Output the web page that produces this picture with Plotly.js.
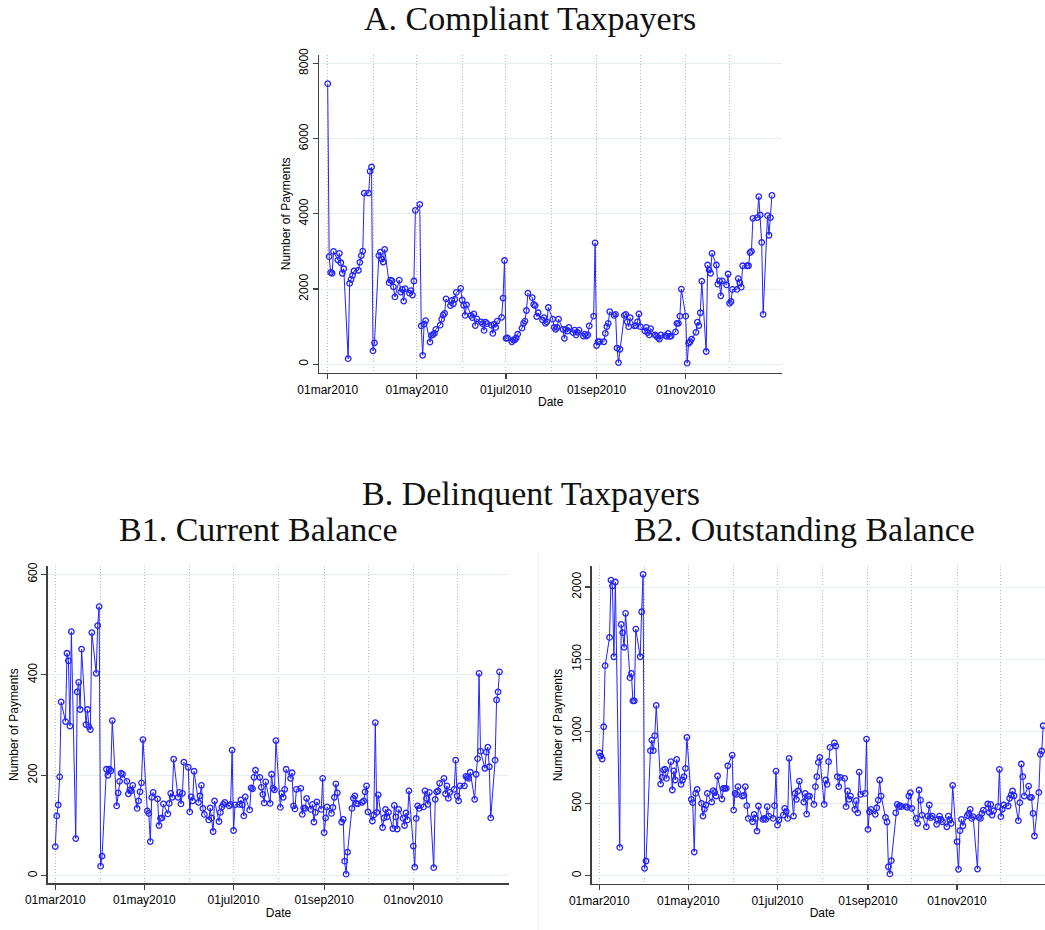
<!DOCTYPE html>
<html>
<head>
<meta charset="utf-8">
<script src="https://cdn.plot.ly/plotly-3.0.1.min.js"></script>
<style>
html,body{margin:0;padding:0;overflow:hidden;background:#fff;}
#chart{width:1053px;height:930px;}
</style>
</head>
<body>
<div id="chart"></div>
<script>
// Business days, 01mar2010 - 30dec2010
const dates = [
"2010-03-01","2010-03-02","2010-03-03","2010-03-04","2010-03-05",
"2010-03-08","2010-03-09","2010-03-10","2010-03-11","2010-03-12",
"2010-03-15","2010-03-16","2010-03-17","2010-03-18","2010-03-19",
"2010-03-22","2010-03-23","2010-03-24","2010-03-25","2010-03-26",
"2010-03-29","2010-03-30","2010-03-31","2010-04-01","2010-04-02",
"2010-04-05","2010-04-06","2010-04-07","2010-04-08","2010-04-09",
"2010-04-12","2010-04-13","2010-04-14","2010-04-15","2010-04-16",
"2010-04-19","2010-04-20","2010-04-21","2010-04-22","2010-04-23",
"2010-04-26","2010-04-27","2010-04-28","2010-04-29","2010-04-30",
"2010-05-03","2010-05-04","2010-05-05","2010-05-06","2010-05-07",
"2010-05-10","2010-05-11","2010-05-12","2010-05-13","2010-05-14",
"2010-05-17","2010-05-18","2010-05-19","2010-05-20","2010-05-21",
"2010-05-24","2010-05-25","2010-05-26","2010-05-27","2010-05-28",
"2010-05-31","2010-06-01","2010-06-02","2010-06-03","2010-06-04",
"2010-06-07","2010-06-08","2010-06-09","2010-06-10","2010-06-11",
"2010-06-14","2010-06-15","2010-06-16","2010-06-17","2010-06-18",
"2010-06-21","2010-06-22","2010-06-23","2010-06-24","2010-06-25",
"2010-06-28","2010-06-29","2010-06-30","2010-07-01","2010-07-02",
"2010-07-05","2010-07-06","2010-07-07","2010-07-08","2010-07-09",
"2010-07-12","2010-07-13","2010-07-14","2010-07-15","2010-07-16",
"2010-07-19","2010-07-20","2010-07-21","2010-07-22","2010-07-23",
"2010-07-26","2010-07-27","2010-07-28","2010-07-29","2010-07-30",
"2010-08-02","2010-08-03","2010-08-04","2010-08-05","2010-08-06",
"2010-08-09","2010-08-10","2010-08-11","2010-08-12","2010-08-13",
"2010-08-16","2010-08-17","2010-08-18","2010-08-19","2010-08-20",
"2010-08-23","2010-08-24","2010-08-25","2010-08-26","2010-08-27",
"2010-08-30","2010-08-31","2010-09-01","2010-09-02","2010-09-03",
"2010-09-06","2010-09-07","2010-09-08","2010-09-09","2010-09-10",
"2010-09-13","2010-09-14","2010-09-15","2010-09-16","2010-09-17",
"2010-09-20","2010-09-21","2010-09-22","2010-09-23","2010-09-24",
"2010-09-27","2010-09-28","2010-09-29","2010-09-30","2010-10-01",
"2010-10-04","2010-10-05","2010-10-06","2010-10-07","2010-10-08",
"2010-10-11","2010-10-12","2010-10-13","2010-10-14","2010-10-15",
"2010-10-18","2010-10-19","2010-10-20","2010-10-21","2010-10-22",
"2010-10-25","2010-10-26","2010-10-27","2010-10-28","2010-10-29",
"2010-11-01","2010-11-02","2010-11-03","2010-11-04","2010-11-05",
"2010-11-08","2010-11-09","2010-11-10","2010-11-11","2010-11-12",
"2010-11-15","2010-11-16","2010-11-17","2010-11-18","2010-11-19",
"2010-11-22","2010-11-23","2010-11-24","2010-11-25","2010-11-26",
"2010-11-29","2010-11-30","2010-12-01","2010-12-02","2010-12-03",
"2010-12-06","2010-12-07","2010-12-08","2010-12-09","2010-12-10",
"2010-12-13","2010-12-14","2010-12-15","2010-12-16","2010-12-17",
"2010-12-20","2010-12-21","2010-12-22","2010-12-23","2010-12-24",
"2010-12-27","2010-12-28","2010-12-29","2010-12-30"
];

// A. Compliant taxpayers
const compliant = [
7460,2860,2445,2420,3000,
2770,2950,2700,2420,2540,
150,2150,2260,2365,2480,
2500,2710,2890,3010,4550,
4550,5130,5245,355,570,
2890,2980,2800,2720,3055,
2170,2240,2220,2060,1790,
2240,1920,1990,1680,2010,
1890,1960,1840,2215,4090,
4250,1020,240,1070,1160,
590,770,790,820,930,
1040,1200,1310,1355,1740,
1560,1700,1610,1730,1910,
2020,1710,1570,1300,1580,
1300,1240,1340,1030,1210,
1130,1080,900,1120,1080,
1040,820,1070,980,1150,
1250,1760,2760,690,700,
600,650,650,700,800,
960,1090,1150,1430,1890,
1770,1590,1560,1270,1370,
1180,1240,1090,1130,1510,
1200,980,930,980,1200,
930,690,930,880,980,
840,910,780,850,910,
750,800,750,780,1020,
1280,3230,500,600,600,
600,820,1000,1090,1400,
1300,1330,430,45,400,
1300,1330,1130,1000,1240,
1020,1030,1130,1340,1000,
890,980,840,780,950,
780,750,710,670,780,
760,740,820,740,750,
860,1090,1090,1280,2000,
1280,30,560,600,670,
850,1120,1030,1370,2210,
340,2640,2510,2420,2950,
2640,2130,2220,1820,2220,
2110,2400,1620,1670,1990,
1990,2280,2170,2050,2620,
2620,2620,2970,3000,3880,
3900,4460,3970,3240,1330,
3950,3430,3900,4490
];

// B1. Delinquent taxpayers, current balance
const currentBal = [
58,119,141,197,346,
307,443,428,298,486,
74,366,385,331,451,
301,331,297,291,484,
403,498,536,19,39,
212,200,212,209,309,
139,165,188,204,202,
188,163,171,169,180,
134,149,167,185,271,
129,124,68,156,166,
153,100,114,115,143,
123,144,164,156,232,
156,166,143,164,226,
216,127,157,149,208,
146,159,180,134,122,
111,135,115,88,149,
108,126,137,142,146,
139,142,250,90,141,
142,151,141,119,157,
131,175,173,196,210,
196,176,162,145,187,
144,202,174,171,269,
136,164,156,172,212,
194,205,139,133,172,
174,122,135,134,154,
132,142,107,126,147,
132,194,86,115,137,
124,136,156,183,165,
107,112,29,3,47,
134,154,159,144,143,
146,149,167,179,127,
109,121,305,126,161,
96,115,132,117,126,
94,140,117,93,132,
114,100,125,111,169,
59,17,114,139,134,
137,169,154,142,166,
16,152,167,169,184,
194,163,179,154,166,
172,230,159,149,179,
179,198,196,194,206,
152,202,233,403,248,
214,246,256,217,115,
230,350,366,406
];

// B2. Delinquent taxpayers, outstanding balance
const outstandingBal = [
852,829,808,1032,1455,
1651,2048,2007,1517,2035,
196,1741,1684,1582,1818,
1372,1402,1212,1212,1709,
1517,1829,2088,51,102,
866,940,866,970,1180,
635,681,732,739,674,
790,594,727,663,806,
633,663,686,744,958,
529,506,164,570,598,
501,413,462,490,570,
510,589,577,552,691,
531,605,605,605,762,
836,455,570,563,617,
552,557,617,485,397,
374,425,397,309,483,
390,397,390,478,413,
397,485,725,351,386,
420,466,443,397,813,
413,570,529,587,656,
510,570,427,552,552,
494,617,686,785,820,
494,663,633,790,889,
921,898,686,617,681,
674,478,587,529,552,
460,520,436,718,564,
570,947,321,443,460,
425,471,524,663,552,
404,372,62,12,104,
436,494,478,485,478,
478,473,552,575,467,
397,363,594,524,420,
339,413,490,402,413,
356,390,413,390,374,
339,413,386,363,626,
236,44,312,390,346,
416,432,460,397,409,
46,404,397,432,455,
497,439,494,420,450,
478,737,409,460,490,
483,536,559,587,554,
381,506,774,686,552,
621,543,543,432,275,
577,841,864,1039
];

const tickDates = ["2010-03-01","2010-05-01","2010-07-01","2010-09-01","2010-11-01"];
const tickLabels = ["01mar2010","01may2010","01jul2010","01sep2010","01nov2010"];
const monthStarts = ["2010-03-01","2010-04-01","2010-05-01","2010-06-01","2010-07-01",
  "2010-08-01","2010-09-01","2010-10-01","2010-11-01","2010-12-01"];
const yTicksA = [0,2000,4000,6000,8000];
const yTicksB1 = [0,200,400,600];
const yTicksB2 = [0,500,1000,1500,2000];

const BLUE = "#2323ff";
function series(y, xa, ya){
  return {
    x: dates, y: y, xaxis: xa, yaxis: ya,
    type: "scatter", mode: "lines+markers",
    line: {color: BLUE, width: 1},
    marker: {symbol: "circle-open", size: 5.5, color: BLUE, line: {width: 1.3, color: BLUE}},
    hoverinfo: "x+y", showlegend: false
  };
}

const sans = "Liberation Sans, Arial, sans-serif";
const serif = "Liberation Serif, Times New Roman, serif";
const AX = "#404040";
const DOT = "1px,2px";
const GRIDV = "#b8b8b8";

function xAxis(domain, anchor, range){
  return {
    domain: domain, anchor: anchor, type: "date", range: range,
    tickmode: "array", tickvals: tickDates, ticktext: tickLabels,
    ticks: "outside", ticklen: 5, tickwidth: 1.2, tickcolor: AX,
    showline: true, linecolor: AX, linewidth: 1.4,
    showgrid: true, gridcolor: GRIDV, gridwidth: 1, griddash: DOT,
    minor: {tickmode: "array", tickvals: monthStarts, showgrid: true,
            gridcolor: GRIDV, gridwidth: 1, griddash: DOT, ticks: ""},
    zeroline: false,
    tickfont: {family: sans, size: 12, color: "#000"},
    title: {text: "Date", font: {family: sans, size: 12, color: "#000"}, standoff: 2}
  };
}
function yAxis(domain, anchor, range, tv){
  return {
    domain: domain, anchor: anchor, range: range,
    tickmode: "array", tickvals: tv,
    ticks: "outside", ticklen: 5, tickwidth: 1.2, tickcolor: AX,
    showline: true, linecolor: AX, linewidth: 1.4,
    showgrid: true, gridcolor: "#e4eef0", gridwidth: 1,
    zeroline: false, tickangle: -90,
    tickfont: {family: sans, size: 12, color: "#000"},
    title: {text: "Number of Payments", font: {family: sans, size: 12, color: "#000"}, standoff: 4}
  };
}

const W = 1053, H = 930;
const px = v => v / W, py = v => 1 - v / H;
const TF = {family: serif, size: 34, color: "#111"};

const layout = {
  width: W, height: H,
  margin: {l: 0, r: 0, t: 0, b: 0},
  paper_bgcolor: "#fff", plot_bgcolor: "#fff",
  xaxis: xAxis([px(319.3), px(782)], "y", ["2010-02-23 06:00", "2011-01-05 21:36"]),
  yaxis: yAxis([py(372.7), py(55)], "x", [-223, 8222], yTicksA),
  xaxis2: xAxis([px(47.7), px(509.3)], "y2", ["2010-02-23 19:12", "2011-01-05 16:48"]),
  yaxis2: yAxis([py(883.3), py(566)], "x2", [-15.1, 616.7], yTicksB1),
  xaxis3: xAxis([px(591.7), 1], "y3", ["2010-02-23 19:12", "2011-01-05 16:48"]),
  yaxis3: yAxis([py(884), py(566)], "x3", [-57.5, 2146], yTicksB2),
  annotations: [
    {text: "A. Compliant Taxpayers", x: px(530), y: py(19), xref: "paper", yref: "paper",
     showarrow: false, xanchor: "center", yanchor: "middle", font: TF},
    {text: "B. Delinquent Taxpayers", x: px(531), y: py(493), xref: "paper", yref: "paper",
     showarrow: false, xanchor: "center", yanchor: "middle", font: TF},
    {text: "B1. Current Balance", x: px(258), y: py(529), xref: "paper", yref: "paper",
     showarrow: false, xanchor: "center", yanchor: "middle", font: TF},
    {text: "B2. Outstanding Balance", x: px(804), y: py(529), xref: "paper", yref: "paper",
     showarrow: false, xanchor: "center", yanchor: "middle", font: TF}
  ],
  shapes: [
    {type: "line", xref: "paper", yref: "paper", x0: px(538.3), x1: px(538.3), y0: 0, y1: py(552),
     line: {color: "#e6eff0", width: 1}}
  ]
};

Plotly.newPlot("chart", [
  series(compliant, "x", "y"),
  series(currentBal, "x2", "y2"),
  series(outstandingBal, "x3", "y3")
], layout, {displayModeBar: false, staticPlot: true});
</script>
</body>
</html>
